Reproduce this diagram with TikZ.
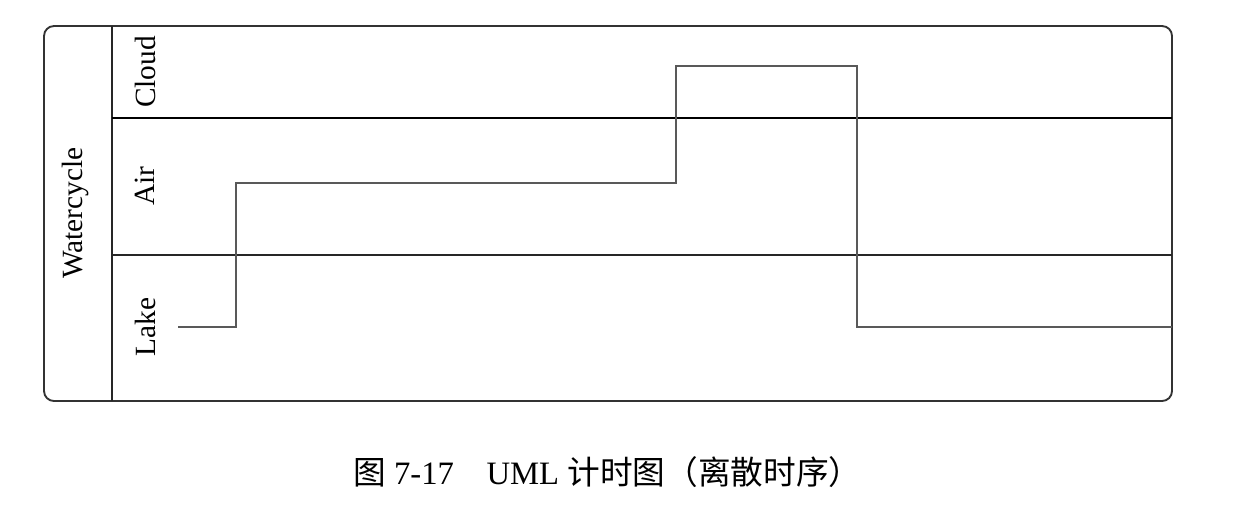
\documentclass[tikz,border=0pt]{standalone}
\usepackage{fontspec}
\setmainfont{Liberation Serif}
\newfontfamily\cjk{Noto Sans CJK SC}
\begin{document}
\begin{tikzpicture}[x=0.75pt,y=-0.75pt,
  frame/.style={draw=black!80,line width=1.4pt,rounded corners=7.5pt},
  divider/.style={draw=black,line width=1.4pt},
  thindiv/.style={draw=black!85,line width=1.1pt},
  signal/.style={draw=black!65,line width=1.4pt},
  lbl/.style={rotate=90,font=\fontsize{22}{24}\selectfont,inner sep=0pt},
  captext/.style={font=\fontsize{24.5}{28}\selectfont,inner sep=0pt}]
\useasboundingbox (0,0) rectangle (1235,511);
% frame
\draw[frame] (44,26) rectangle (1172,401);
\draw[thindiv] (112,26) -- (112,401);
\draw[divider] (112,118) -- (1172,118);
\draw[thindiv] (112,255) -- (1172,255);
% labels
\node[lbl] (wc) at (75,213) {Watercycle};
\node[lbl] (cloud) at (145,72) {Cloud};
\node[lbl] (air) at (145,186) {Air};
\node[lbl] (lake) at (145,327) {Lake};
% signal
\coordinate (s0) at (178,327);
\coordinate (s1) at (236,327);
\coordinate (s2) at (236,183);
\coordinate (s3) at (676,183);
\coordinate (s4) at (676,66);
\coordinate (s5) at (857,66);
\coordinate (s6) at (857,327);
\coordinate (s7) at (1172,327);
\draw[signal] (s0) -- (s1) -- (s2) -- (s3) -- (s4) -- (s5) -- (s6) -- (s7);
% caption
\node[captext,anchor=west] (caption) at (353,472) {{\cjk 图} 7-17\hspace{1em}UML {\cjk 计时图（离散时序）}};
\end{tikzpicture}
\end{document}
